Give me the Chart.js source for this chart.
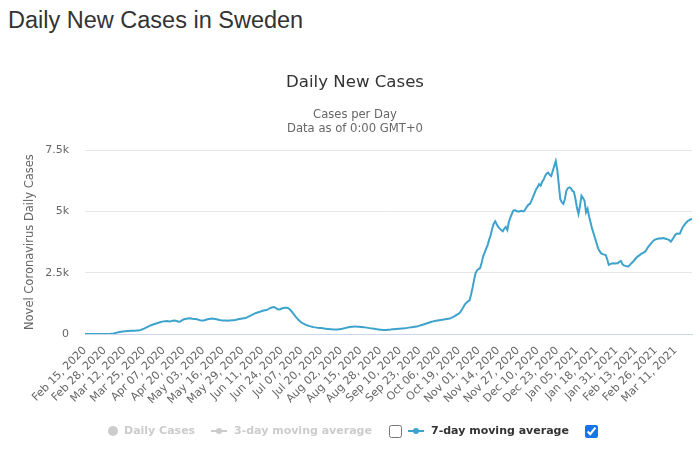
<!DOCTYPE html>
<html>
<head>
<meta charset="utf-8">
<title>Daily New Cases in Sweden</title>
<script src="https://cdn.jsdelivr.net/npm/chart.js@4.4.0/dist/chart.umd.min.js"></script>
<style>
    body {
        margin: 0;
        width: 700px;
        height: 468px;
        background: #fff;
        position: relative;
        overflow: hidden;
        font-family: "Liberation Sans", Arial, sans-serif;
    }
    h1 {
        position: absolute;
        left: 8px;
        top: 7px;
        margin: 0;
        font-size: 23.5px;
        font-weight: normal;
        color: #333;
    }
    #chartBox {
        position: absolute;
        left: 0;
        top: 0;
        width: 700px;
        height: 468px;
    }
    .leg {
        position: absolute;
        top: 424px;
        font-family: "DejaVu Sans", sans-serif;
        font-size: 11px;
        font-weight: bold;
        line-height: 14px;
        white-space: nowrap;
    }
    .off { color: #ccc; }
    .on { color: #333; }
    .dot {
        position: absolute;
        top: 426px;
        width: 10px;
        height: 10px;
        border-radius: 50%;
        background: #ccc;
    }
    .mk {
        position: absolute;
        top: 430px;
        height: 2px;
        width: 16px;
    }
    .mk span {
        position: absolute;
        left: 5px;
        top: -2px;
        width: 6px;
        height: 6px;
        border-radius: 50%;
        background: inherit;
    }
    input[type=checkbox] {
        position: absolute;
        top: 425px;
        width: 13px;
        height: 13px;
        margin: 0;
        accent-color: #1a73e8;
    }
</style>
</head>
<body>
<h1>Daily New Cases in Sweden</h1>
<div id="chartBox"><canvas id="chartCasos"></canvas></div>

<span class="dot" style="left:108px"></span>
<span class="leg off" style="left:124px">Daily Cases</span>
<span class="mk" style="left:211px;background:#ccc"><span></span></span>
<span class="leg off" style="left:234px">3-day moving average</span>
<input type="checkbox" style="left:389px">
<span class="mk" style="left:408px;background:#3ea3cc"><span></span></span>
<span class="leg on" style="left:431px">7-day moving average</span>
<input type="checkbox" checked style="left:585px">

<script>
// ===== Daily New Cases in Sweden - 7-day moving average =====

// valores, un arreglo por mes (desde Feb 15, 2020)
const feb2020 = [0, 0, 0, 0, 0, 0, 0, 0, 0, 0, 1, 1, 1, 2, 2];
const mar2020 = [3, 5, 8, 15, 25, 40, 55, 70, 85, 95, 105, 110, 115, 120, 125, 128, 130, 132, 135, 140,
    145, 150, 170, 195, 220, 250, 280, 310, 340, 370, 390];
const apr2020 = [410, 430, 450, 470, 490, 505, 515, 525, 530, 520, 510, 525, 540, 550, 545, 520, 500, 510,
    560, 590, 610, 625, 635, 640, 630, 620, 615, 610, 600, 580];
const may2020 = [565, 555, 550, 560, 580, 600, 615, 625, 630, 625, 615, 600, 585, 570, 560, 555, 550, 548,
    545, 550, 555, 560, 565, 570, 585, 600, 615, 625, 635, 645, 655];
const jun2020 = [680, 710, 740, 770, 800, 830, 860, 880, 900, 920, 940, 955, 965, 975, 1010, 1050, 1075,
    1090, 1100, 1060, 1020, 1000, 1010, 1040, 1065, 1075, 1070, 1060, 1020, 960];
const jul2020 = [880, 800, 720, 650, 580, 520, 470, 430, 400, 370, 350, 330, 310, 295, 280, 270, 260, 250,
    245, 240, 235, 225, 215, 205, 200, 195, 190, 185, 182, 180, 180];
const aug2020 = [190, 200, 215, 230, 245, 260, 275, 285, 295, 300, 305, 305, 300, 295, 290, 285, 280, 270,
    260, 250, 240, 230, 220, 210, 200, 195, 185, 175, 170, 165, 165];
const sep2020 = [165, 170, 175, 180, 190, 195, 200, 205, 210, 215, 220, 225, 230, 240, 250, 260, 270, 280,
    290, 300, 310, 320, 340, 360, 380, 400, 420, 440, 460, 480];
const oct2020 = [500, 515, 530, 545, 555, 565, 575, 585, 595, 605, 615, 625, 635, 660, 690, 720, 760, 800,
    830, 900, 1000, 1100, 1210, 1280, 1330, 1370, 1600, 1880, 2200, 2490, 2600];
const nov2020 = [2650, 2690, 2900, 3160, 3320, 3480, 3630, 3850, 4030, 4300, 4500, 4600, 4480, 4370, 4300,
    4240, 4190, 4300, 4370, 4250, 4570, 4750, 4900, 5040, 5060, 5020, 5000, 5000, 5030, 5010];
const dec2020 = [5010, 5100, 5200, 5280, 5310, 5450, 5600, 5750, 5900, 6000, 6115, 6050, 6210, 6300, 6450,
    6550, 6585, 6500, 6450, 6650, 6850, 7055, 6700, 6100, 5500, 5375, 5310, 5500, 5845, 5950, 5980];
const jan2021 = [5950, 5845, 5800, 5510, 5150, 4900, 5240, 5645, 5550, 5440, 4970, 5110, 4800, 4550, 4300,
    4100, 3900, 3700, 3495, 3380, 3290, 3260, 3240, 3225, 3050, 2820, 2850, 2880, 2890, 2880, 2890];
const feb2021 = [2890, 2950, 2985, 2850, 2800, 2780, 2760, 2755, 2820, 2890, 2950, 3020, 3090, 3160, 3200,
    3250, 3290, 3320, 3360, 3450, 3550, 3630, 3700, 3770, 3830, 3860, 3880, 3900];
const mar2021 = [3910, 3900, 3920, 3900, 3880, 3860, 3830, 3765, 3850, 3950, 4050, 4100, 4090, 4100, 4250,
    4370, 4450, 4530, 4600, 4640, 4680, 4700];

const casos7dias = [].concat(feb2020, mar2020, apr2020, may2020, jun2020, jul2020, aug2020, sep2020,
    oct2020, nov2020, dec2020, jan2021, feb2021, mar2021);

// etiquetas de fecha (una por dia) y marcas del eje
const nombresMes = ['Jan', 'Feb', 'Mar', 'Apr', 'May', 'Jun', 'Jul', 'Aug', 'Sep', 'Oct', 'Nov', 'Dec'];
const fechaInicio = Date.UTC(2020, 1, 15);
const cadaNDias = 13;
const yTicks = [0, 2500, 5000, 7500];

const fechas = [];
for (let i = 0; i < casos7dias.length; i++) {
    const d = new Date(fechaInicio + i * 86400000);
    fechas.push(nombresMes[d.getUTCMonth()] + ' ' + String(d.getUTCDate()).padStart(2, '0') + ', ' + d.getUTCFullYear());
}

const fuenteChart = '"DejaVu Sans", "Lucida Grande", sans-serif';

document.addEventListener('DOMContentLoaded', function() {
    const ctx = document.getElementById('chartCasos');
    new Chart(ctx, {
        type: 'line',
        data: {
            labels: fechas,
            datasets: [{
                label: '7-day moving average',
                data: casos7dias,
                borderColor: '#3ea3cc',
                backgroundColor: '#3ea3cc',
                borderWidth: 2,
                pointRadius: 0,
                tension: 0,
                fill: false
            }]
        },
        options: {
            responsive: true,
            maintainAspectRatio: false,
            animation: false,
            layout: {
                padding: { left: 18, right: 8, top: 0, bottom: 0 }
            },
            plugins: {
                legend: { display: false },
                tooltip: { enabled: false },
                title: {
                    display: true,
                    text: 'Daily New Cases',
                    color: '#333',
                    font: { family: fuenteChart, size: 16.6, weight: 'normal' },
                    padding: { top: 73, bottom: 15 }
                },
                subtitle: {
                    display: true,
                    text: ['Cases per Day', 'Data as of 0:00 GMT+0'],
                    color: '#666',
                    font: { family: fuenteChart, size: 11.6, lineHeight: 1.22 },
                    padding: { top: 0, bottom: 14 }
                }
            },
            scales: {
                x: {
                    grid: { display: false },
                    border: { display: true, color: '#ccd6eb', width: 1 },
                    ticks: {
                        autoSkip: false,
                        minRotation: 45,
                        maxRotation: 45,
                        color: '#666',
                        padding: 2,
                        font: { family: fuenteChart, size: 11 },
                        callback: function(value, index) {
                            return index % cadaNDias === 0 ? fechas[index] : null;
                        }
                    },
                    afterFit: function(scale) {
                        scale.height = 134;
                    }
                },
                y: {
                    min: yTicks[0],
                    max: yTicks[yTicks.length - 1],
                    afterBuildTicks: function(scale) {
                        scale.ticks = yTicks.map(v => ({ value: v }));
                    },
                    grid: { color: '#e6e6e6', drawTicks: false },
                    border: { display: false },
                    ticks: {
                        color: '#666',
                        padding: 16,
                        font: { family: fuenteChart, size: 11 },
                        callback: function(value) {
                            return value === 0 ? '0' : (value / 1000) + 'k';
                        }
                    },
                    title: {
                        display: true,
                        text: 'Novel Coronavirus Daily Cases',
                        color: '#666',
                        font: { family: fuenteChart, size: 11.5 },
                        padding: { top: 5, bottom: 0 }
                    },
                    afterFit: function(scale) {
                        scale.width = 67;
                    }
                }
            }
        }
    });
});
</script>
</body>
</html>
